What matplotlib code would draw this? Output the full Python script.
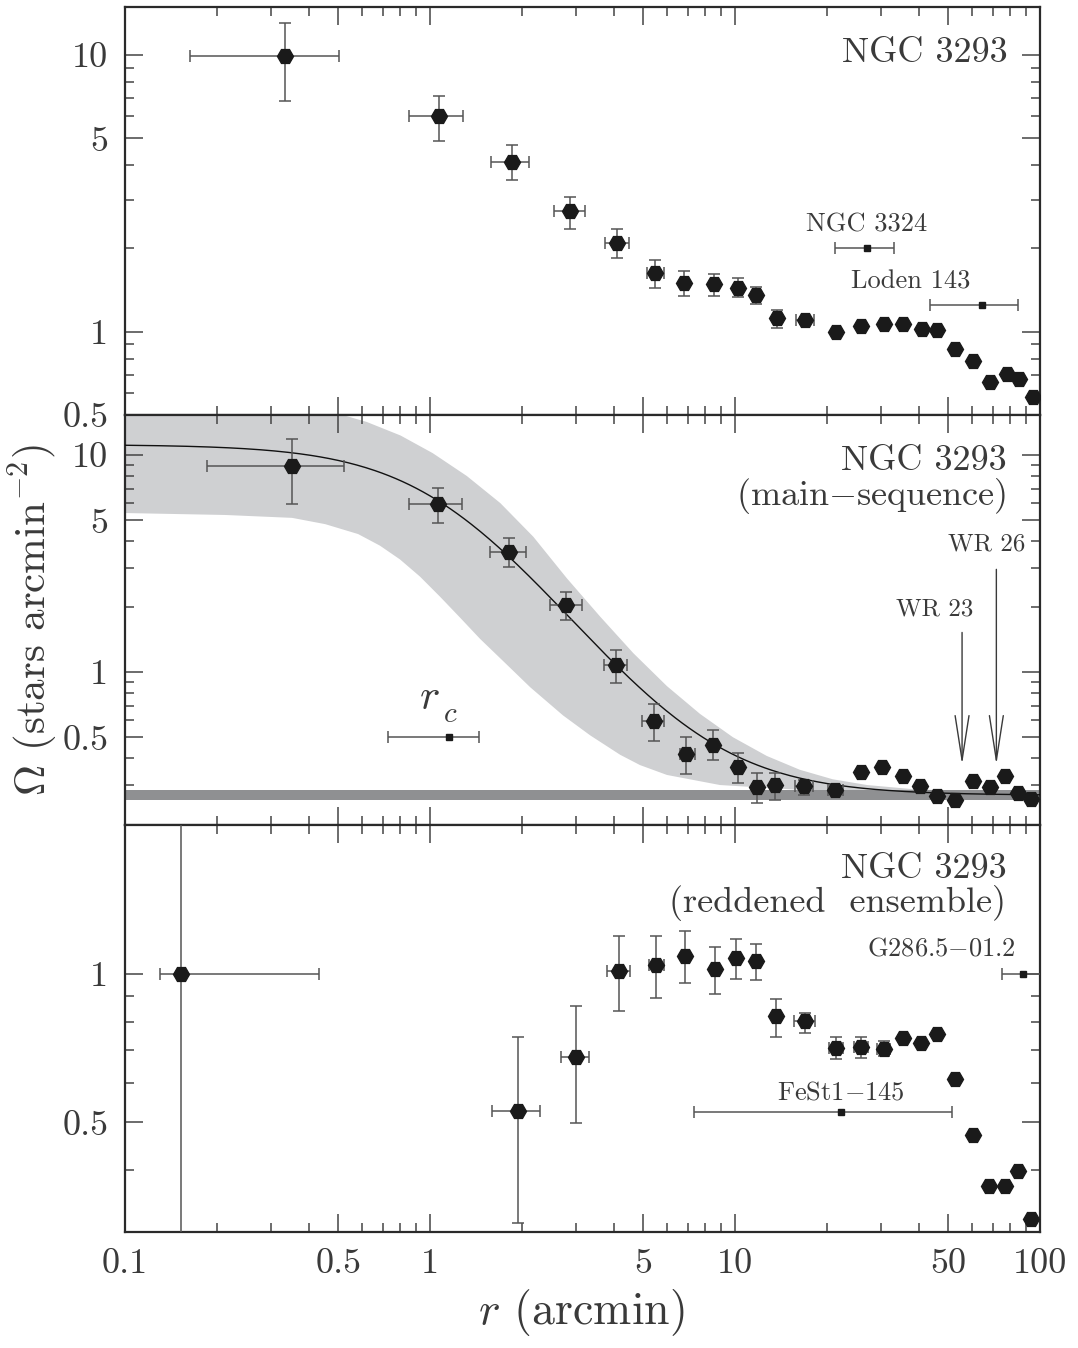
import numpy as np
import matplotlib
matplotlib.use("Agg")
import matplotlib.pyplot as plt
from matplotlib.ticker import FixedLocator, FixedFormatter, NullFormatter

plt.rcParams['font.family'] = ['cmr10', 'DejaVu Serif']
plt.rcParams['mathtext.fontset'] = 'cm'
plt.rcParams['axes.formatter.use_mathtext'] = True

# --- all stars
r1 = [0.335, 1.07, 1.85, 2.87, 4.11, 5.48, 6.82, 8.55, 10.2, 11.7, 13.7, 16.9,
      21.5, 25.9, 30.8, 35.6, 41.0, 46.1, 52.7, 60.5, 68.7, 77.8, 85.5, 94.6]
om1 = [9.9, 6.0, 4.12, 2.72, 2.09, 1.635, 1.50, 1.49, 1.44, 1.36, 1.117, 1.10,
       1.0, 1.05, 1.07, 1.07, 1.02, 1.014, 0.868, 0.783, 0.659, 0.701, 0.676, 0.582]
r1_lo = [0.163, 0.855, 1.58, 2.54, 3.74, 5.15, 6.82, 8.55, 10.2, 11.7, 13.7, 15.8,
         21.5, 25.9, 30.8, 35.6, 41.0, 46.1, 52.7, 60.5, 68.7, 77.8, 85.5, 94.6]
r1_hi = [0.504, 1.28, 2.11, 3.21, 4.49, 5.83, 6.82, 8.55, 10.2, 11.7, 13.7, 18.2,
         21.5, 25.9, 30.8, 35.6, 41.0, 46.1, 52.7, 60.5, 68.7, 77.8, 85.5, 94.6]
om1_lo = [6.83, 4.87, 3.53, 2.36, 1.84, 1.44, 1.35, 1.35, 1.33, 1.26, 1.03, 1.07,
          1.0, 1.05, 1.07, 1.07, 1.02, 1.014, 0.868, 0.783, 0.659, 0.701, 0.676, 0.582]
om1_hi = [13.0, 7.13, 4.74, 3.08, 2.35, 1.82, 1.66, 1.61, 1.56, 1.45, 1.20, 1.13,
          1.0, 1.05, 1.07, 1.07, 1.02, 1.014, 0.868, 0.783, 0.659, 0.701, 0.676, 0.582]

# --- main-sequence stars
r2 = [0.353, 1.06, 1.82, 2.80, 4.06, 5.41, 6.92, 8.49, 10.2, 11.8, 13.5, 16.8,
      21.2, 25.8, 30.4, 35.5, 40.5, 46.0, 52.6, 60.4, 68.4, 76.6, 84.9, 93.3]
om2 = [8.9, 5.94, 3.58, 2.03, 1.073, 0.594, 0.420, 0.461, 0.363, 0.294, 0.301, 0.297,
       0.287, 0.345, 0.363, 0.330, 0.299, 0.268, 0.258, 0.315, 0.294, 0.330, 0.277, 0.260]
r2_lo = [0.185, 0.855, 1.57, 2.47, 3.72, 4.94, 6.6, 8.49, 10.2, 11.8, 13.5, 15.7,
         20.1, 25.8, 30.4, 35.5, 40.5, 46.0, 52.6, 60.4, 68.4, 76.6, 84.9, 93.3]
r2_hi = [0.522, 1.27, 2.07, 3.15, 4.41, 5.84, 7.4, 8.49, 10.2, 11.8, 13.5, 18.0,
         22.6, 25.8, 30.4, 35.5, 40.5, 46.0, 52.6, 60.4, 68.4, 76.6, 84.9, 93.3]
om2_lo = [5.97, 4.86, 3.03, 1.73, 0.89, 0.481, 0.340, 0.391, 0.308, 0.248, 0.257, 0.272,
          0.278, 0.345, 0.363, 0.330, 0.299, 0.268, 0.258, 0.315, 0.294, 0.330, 0.277, 0.260]
om2_hi = [11.9, 7.03, 4.15, 2.34, 1.26, 0.708, 0.499, 0.537, 0.423, 0.342, 0.341, 0.319,
          0.297, 0.345, 0.363, 0.330, 0.299, 0.268, 0.258, 0.315, 0.294, 0.330, 0.277, 0.260]

# King profile fit and its uncertainty envelope
king_om0 = 10.9
king_rc = 1.15
king_rc_lo, king_rc_hi = 0.726, 1.45
king_bg = 0.27
bg_lo, bg_hi = 0.256, 0.286
env_hi_r = [0.1, 0.375, 0.5, 0.62, 0.8, 1.02, 1.32, 1.70, 2.18, 2.81, 3.61, 4.64,
            5.98, 7.68, 9.84, 12.7, 16.3, 20.9, 27.1, 39.5, 100]
env_hi = [20.0, 17.0, 15.5, 14.2, 12.3, 10.2, 8.0, 6.0, 4.2, 2.7, 1.80, 1.22,
          0.86, 0.64, 0.50, 0.41, 0.354, 0.32, 0.301, 0.287, 0.28]
env_lo_r = [0.1, 0.213, 0.353, 0.453, 0.581, 0.685, 0.797, 0.927, 1.079, 1.254, 1.459,
            1.762, 2.13, 2.73, 3.35, 4.20, 4.88, 5.98, 8.93, 16.3, 100]
env_lo = [5.40, 5.29, 5.13, 4.80, 4.32, 3.82, 3.30, 2.75, 2.22, 1.78, 1.42,
          1.10, 0.85, 0.63, 0.51, 0.415, 0.372, 0.335, 0.301, 0.286, 0.28]

# --- reddened ensemble
r3 = [0.152, 1.94, 3.00, 4.17, 5.52, 6.87, 8.57, 10.1, 11.7, 13.6, 17.0, 21.4,
      25.8, 30.7, 35.6, 40.6, 46.0, 52.6, 60.1, 68.2, 76.6, 84.9, 93.7]
om3 = [1.0, 0.526, 0.678, 1.012, 1.04, 1.086, 1.02, 1.076, 1.061, 0.819, 0.801, 0.707,
       0.709, 0.703, 0.740, 0.723, 0.755, 0.611, 0.472, 0.372, 0.372, 0.399, 0.318]
r3_lo = [0.130, 1.60, 2.69, 3.79, 5.24, 6.87, 8.57, 10.1, 11.7, 13.6, 15.6, 20.3,
         24.6, 29.3, 35.6, 40.6, 46.0, 52.6, 60.1, 68.2, 76.6, 84.9, 93.7]
r3_hi = [0.433, 2.29, 3.33, 4.52, 5.84, 6.87, 8.57, 10.1, 11.7, 13.6, 18.3, 22.6,
         27.3, 32.2, 35.6, 40.6, 46.0, 52.6, 60.1, 68.2, 76.6, 84.9, 93.7]
om3_lo = [0.05, 0.313, 0.499, 0.839, 0.892, 0.959, 0.91, 0.974, 0.972, 0.746, 0.760, 0.673,
          0.675, 0.68, 0.740, 0.723, 0.755, 0.611, 0.472, 0.372, 0.372, 0.399, 0.318]
om3_hi = [5.0, 0.743, 0.862, 1.19, 1.19, 1.22, 1.13, 1.175, 1.148, 0.889, 0.832, 0.743,
          0.743, 0.73, 0.740, 0.723, 0.755, 0.611, 0.472, 0.372, 0.372, 0.399, 0.318]

# neighbouring objects (distance from cluster centre)
near1_r = [27.1, 64.6]
near1_lo = [21.2, 43.6]
near1_hi = [33.3, 84.9]
near1_om = [2.0, 1.25]
near3_r = [87.9, 22.2]
near3_lo = [74.8, 7.33]
near3_hi = [130.0, 51.4]
near3_om = [1.0, 0.525]
wr_r = [55.5, 71.9]

INK = '#3a3a3a'
BAR = '#555555'


def profile(ax, r, om, rlo, rhi, olo, ohi):
    r, om = np.array(r), np.array(om)
    xerr = [r - np.array(rlo), np.array(rhi) - r]
    yerr = [om - np.array(olo), np.array(ohi) - om]
    ax.errorbar(r, om, xerr=xerr, yerr=yerr, fmt='none', ecolor=BAR,
                elinewidth=1.1, capsize=4, capthick=1.1, zorder=4)
    ax.plot(r, om, 'H', ms=11.5, color='#1a1a1a', zorder=5)


def marker(ax, r, lo, hi, om):
    r = np.array(r)
    ax.errorbar(r, om, xerr=[r - np.array(lo), np.array(hi) - r], fmt='s', ms=4.5,
                color='#1a1a1a', ecolor=BAR, elinewidth=1.1, capsize=4,
                capthick=1.1, zorder=4)


def style(ax, ylim, ymajor, yminor, ylabels, show_x):
    ax.set_xscale('log')
    ax.set_yscale('log')
    ax.set_xlim(0.1, 100)
    ax.set_ylim(*ylim)
    ax.xaxis.set_major_locator(FixedLocator([0.1, 0.5, 1, 5, 10, 50, 100]))
    ax.xaxis.set_minor_locator(FixedLocator(
        [m * 10.0 ** e for e in (-1, 0, 1) for m in (2, 3, 4, 6, 7, 8, 9)]))
    if show_x:
        ax.xaxis.set_major_formatter(FixedFormatter(['0.1', '0.5', '1', '5', '10', '50', '100']))
    else:
        ax.xaxis.set_major_formatter(NullFormatter())
    ax.xaxis.set_minor_formatter(NullFormatter())
    ax.yaxis.set_major_locator(FixedLocator(ymajor))
    ax.yaxis.set_major_formatter(FixedFormatter(ylabels))
    ax.yaxis.set_minor_locator(FixedLocator(yminor))
    ax.yaxis.set_minor_formatter(NullFormatter())
    ax.tick_params(which='both', direction='in', top=True, right=True,
                   color='#444444', width=1.1, labelsize=26, labelcolor=INK, pad=12)
    ax.tick_params(which='major', length=13)
    ax.tick_params(which='minor', length=6.5)
    for s in ax.spines.values():
        s.set_linewidth(1.6)
        s.set_color('#2a2a2a')


fig = plt.figure(figsize=(10.78, 13.48), dpi=100)
left, width = 0.116, 0.8488
ax1 = fig.add_axes([left, 0.6921, width, 0.3027])
ax2 = fig.add_axes([left, 0.3880, width, 0.3042])
ax3 = fig.add_axes([left, 0.0861, width, 0.3019])

ymin_std = [0.6, 0.7, 0.8, 0.9, 2, 3, 4, 6, 7, 8, 9]

# top: all stars
profile(ax1, r1, om1, r1_lo, r1_hi, om1_lo, om1_hi)
marker(ax1, near1_r, near1_lo, near1_hi, near1_om)
ax1.text(78.3, 9.41, 'NGC 3293', fontsize=26, color=INK, ha='right', va='baseline')
ax1.text(27.1, 2.30, 'NGC 3324', fontsize=19, color=INK, ha='center', va='baseline')
ax1.text(37.7, 1.43, 'Loden 143', fontsize=19, color=INK, ha='center', va='baseline')
style(ax1, (0.5, 14.9), [0.5, 1, 5, 10], ymin_std, ['0.5', '1', '5', '10'], False)

# middle: main-sequence stars with King profile
ax2.fill(np.r_[env_hi_r, env_lo_r[::-1]], np.r_[env_hi, env_lo[::-1]],
         color='#cfd0d2', lw=0, zorder=1)
ax2.axhspan(bg_lo, bg_hi, color='#8f9092', lw=0, zorder=2)
rr = np.logspace(-1, 2, 400)
ax2.plot(rr, king_bg + king_om0 / (1 + (rr / king_rc) ** 2), color='#111111', lw=1.0, zorder=3)
profile(ax2, r2, om2, r2_lo, r2_hi, om2_lo, om2_hi)
marker(ax2, [king_rc], [king_rc_lo], [king_rc_hi], [0.5])
ax2.text(0.993, 0.676, '$r$', fontsize=31, color=INK, ha='center', va='baseline')
ax2.text(1.164, 0.588, '$c$', fontsize=21, color=INK, ha='center', va='baseline')
ax2.text(77.6, 8.54, 'NGC 3293', fontsize=26, color=INK, ha='right', va='baseline')
ax2.text(77.6, 5.90, '(main$-$sequence)', fontsize=26, color=INK, ha='right', va='baseline')
ax2.text(45.0, 1.82, 'WR 23', fontsize=18, color=INK, ha='center', va='baseline')
ax2.text(67.0, 3.63, 'WR 26', fontsize=18, color=INK, ha='center', va='baseline')
for xr, tail in zip(wr_r, [1.52, 2.97]):
    ax2.annotate('', xy=(xr, 0.374), xytext=(xr, tail),
                 arrowprops=dict(arrowstyle='->,head_length=1.6,head_width=0.25',
                                 lw=1.0, color=INK, mutation_scale=20,
                                 shrinkA=0, shrinkB=0), zorder=6)
style(ax2, (0.197, 15.3), [0.5, 1, 5, 10], [0.3, 0.4] + ymin_std,
      ['0.5', '1', '5', '10'], False)

# bottom: reddened ensemble
profile(ax3, r3, om3, r3_lo, r3_hi, om3_lo, om3_hi)
marker(ax3, near3_r, near3_lo, near3_hi, near3_om)
ax3.text(77.6, 1.56, 'NGC 3293', fontsize=26, color=INK, ha='right', va='baseline')
ax3.text(77.6, 1.33, '(reddened  ensemble)', fontsize=26, color=INK, ha='right', va='baseline')
ax3.text(83.4, 1.086, 'G286.5$-$01.2', fontsize=19, color=INK, ha='right', va='baseline')
ax3.text(22.2, 0.556, 'FeSt1$-$145', fontsize=19, color=INK, ha='center', va='baseline')
style(ax3, (0.3, 2.0), [0.5, 1], [0.3, 0.4, 0.6, 0.7, 0.8, 0.9, 2], ['0.5', '1'], True)

fig.text(33 / 1078, 1 - 620 / 1348, r'$\Omega$ (stars arcmin$^{-2}$)', fontsize=31,
         color=INK, rotation=90, ha='center', va='center')
fig.text(581 / 1078, 1 - 1312 / 1348, r'$r$ (arcmin)', fontsize=33, color=INK,
         ha='center', va='center')

fig.savefig('out.png', dpi=100)
